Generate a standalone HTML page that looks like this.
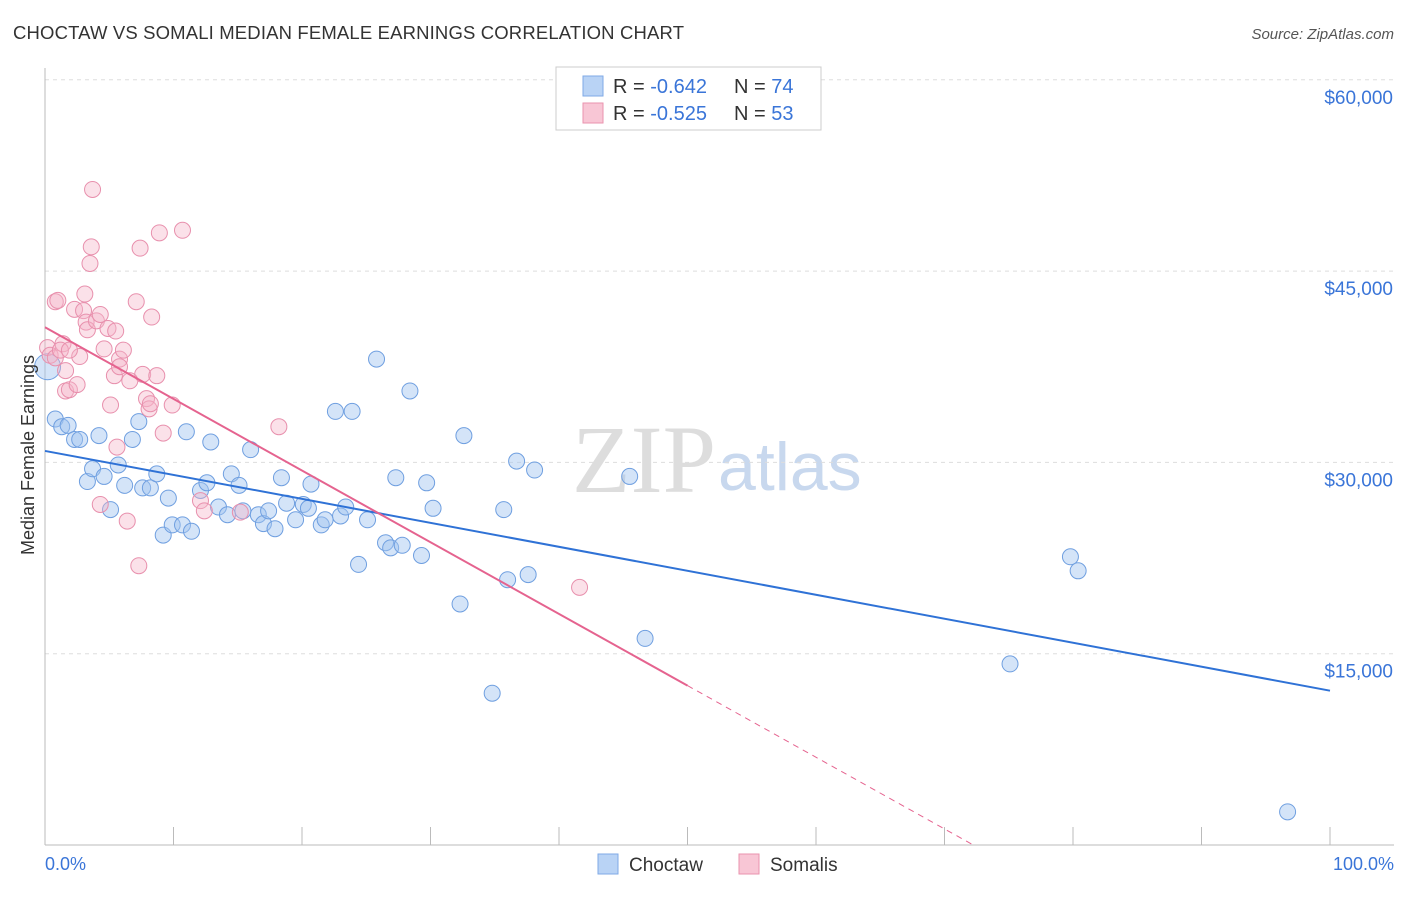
<!DOCTYPE html>
<html><head><meta charset="utf-8"><style>
body{margin:0;width:1406px;height:892px;background:#fff;font-family:"Liberation Sans",sans-serif;overflow:hidden}
</style></head><body>
<svg width="1406" height="892" font-family="Liberation Sans, sans-serif">
<text x="13" y="39" font-size="18.5" fill="#333" textLength="671">CHOCTAW VS SOMALI MEDIAN FEMALE EARNINGS CORRELATION CHART</text>
<text x="1394" y="39" font-size="15" fill="#555" text-anchor="end" font-style="italic">Source: ZipAtlas.com</text>
<text x="716" y="492" font-size="96" fill="#ddd" text-anchor="end" font-family="Liberation Serif, serif">ZIP</text>
<text x="718" y="490" font-size="68" fill="#c8d8ee">atlas</text>
<g id="grid"></g><g id="axes"></g><g id="pts"></g><g id="trend"></g>
<text x="34" y="455" font-size="18" fill="#333" text-anchor="middle" transform="rotate(-90 34 455)">Median Female Earnings</text>
<text x="45" y="870" font-size="18" fill="#3a75d8">0.0%</text>
<text x="1394" y="870" font-size="18" fill="#3a75d8" text-anchor="end">100.0%</text>
<g>
<rect x="556" y="67" width="265" height="63" fill="#fff" stroke="#ccc"/>
<rect x="583" y="76" width="20" height="20" fill="#b9d3f5" stroke="#7fa9e6"/>
<rect x="583" y="103" width="20" height="20" fill="#f8c6d5" stroke="#ea93ae"/>
<text x="613" y="93" font-size="20" fill="#333">R = <tspan fill="#3a75d8">-0.642</tspan></text>
<text x="734" y="93" font-size="20" fill="#333">N = <tspan fill="#3a75d8">74</tspan></text>
<text x="613" y="120" font-size="20" fill="#333">R = <tspan fill="#3a75d8">-0.525</tspan></text>
<text x="734" y="120" font-size="20" fill="#333">N = <tspan fill="#3a75d8">53</tspan></text>
</g>
<g>
<rect x="598" y="854" width="20" height="20" fill="#b9d3f5" stroke="#7fa9e6"/>
<text x="629" y="871" font-size="19" fill="#333">Choctaw</text>
<rect x="739" y="854" width="20" height="20" fill="#f8c6d5" stroke="#ea93ae"/>
<text x="770" y="871" font-size="19" fill="#333">Somalis</text>
</g>
</svg>
<script>
const yTicks=[15000,30000,45000,60000];
const yTickLabels=["$15,000","$30,000","$45,000","$60,000"];
const chX=[0.2,0.8,1.3,1.8,2.3,2.7,3.3,3.7,4.2,4.6,5.1,5.7,6.2,6.8,7.3,7.6,8.2,8.7,9.2,9.6,9.9,10.7,11,11.4,12.1,12.6,12.9,13.5,14.2,14.5,15.1,15.4,16,16.6,17,17.4,17.9,18.4,18.8,19.5,20.1,20.5,20.7,21.5,21.8,22.6,23,23.4,23.9,24.4,25.1,25.8,26.5,26.9,27.3,27.8,28.4,29.3,29.7,30.2,32.3,32.6,34.8,35.7,36,36.7,37.6,38.1,45.5,46.7,75.1,79.8,80.4,96.7];
const chY=[37500,33400,32800,32900,31800,31800,28500,29500,32100,28900,26300,29800,28200,31800,33200,28000,28000,29100,24300,27200,25100,25100,32400,24600,27800,28400,31600,26500,25900,29100,28200,26200,31000,25900,25200,26200,24800,28800,26800,25500,26700,26400,28300,25100,25500,34000,25800,26500,34000,22000,25500,38100,23700,23300,28800,23500,35600,22700,28400,26400,18900,32100,11900,26300,20800,30100,21200,29400,28900,16200,14200,22600,21500,2600];
const soX=[0.2,0.4,0.8,1,1.4,1.6,1.9,2.3,2.5,2.7,3,3.2,3.3,3.7,3.6,3.5,4.0,4.3,4.6,4.9,5.1,5.4,5.5,5.6,5.8,6.1,6.4,7.1,7.3,7.4,7.6,7.9,8.1,8.3,8.7,8.9,9.2,9.9,10.7,12.1,12.4,15.2,18.2,41.6,0.8,1.2,4.3,5.8,1.9,8.2,6.6,3.1,1.6];
const soY=[39000,38400,42600,42700,39300,35600,35700,42000,36100,38300,41900,41000,40400,51400,46900,45600,41100,26700,38900,40500,34500,36800,40300,31200,38100,38800,25400,42600,21900,46800,36900,35000,34200,41400,36800,48000,32300,34500,48200,27000,26200,26100,32800,20200,38200,38800,41600,37500,38800,34600,36400,43200,37200];
// trend line params [intercept, slope per %]
const chTrend=[30900,-188];
const soTrend=[40600,-562];
const soSolidEnd=[50];
const ns="http://www.w3.org/2000/svg";
const X=v=>45+v*12.85, Y=v=>845-v*191.3/15000;
function mk(t,a,p){const e=document.createElementNS(ns,t);for(const k in a)e.setAttribute(k,a[k]);document.getElementById(p).appendChild(e);return e;}
yTicks.forEach((t,i)=>{
const l=mk('line',{x1:45,x2:1394,y1:Y(t),y2:Y(t),stroke:'#ddd','stroke-dasharray':'4,4'},'grid');


const tx=mk('text',{x:1393,y:Y(t)+24,'font-size':19,fill:'#3a75d8','text-anchor':'end'},'grid');tx.textContent=yTickLabels[i];


});
mk('line',{x1:45,x2:45,y1:68,y2:845,stroke:'#bbb'},'axes');
mk('line',{x1:45,x2:1394,y1:845,y2:845,stroke:'#bbb'},'axes');
for(let i=0;i<=10;i++){const l=mk('line',{x1:X(i*10),x2:X(i*10),y1:827,y2:845,stroke:'#bbb'},'axes');

}
chX.forEach((x,i)=>{const c=mk('circle',{cx:X(x),cy:Y(chY[i]),r:i==0?13:8,fill:'rgba(160,195,240,0.45)',stroke:'#6f9fe0','stroke-width':1},'pts');

});
soX.forEach((x,i)=>{const c=mk('circle',{cx:X(x),cy:Y(soY[i]),r:8,fill:'rgba(245,180,200,0.4)',stroke:'#e890ad','stroke-width':1},'pts');

});
const [ca,cb]=chTrend;
let l=mk('line',{x1:X(0),y1:Y(ca),x2:X(100),y2:Y(ca+cb*100),stroke:'#2f72d6','stroke-width':2},'trend');


const [sa,sb]=soTrend;
const xe=soSolidEnd[0], x0=-sa/sb;
l=mk('line',{x1:X(0),y1:Y(sa),x2:X(xe),y2:Y(sa+sb*xe),stroke:'#e5638f','stroke-width':2},'trend');


l=mk('line',{x1:X(xe),y1:Y(sa+sb*xe),x2:X(x0),y2:Y(0),stroke:'#e5638f','stroke-width':1,'stroke-dasharray':'6,5'},'trend');


</script>
</body></html>
